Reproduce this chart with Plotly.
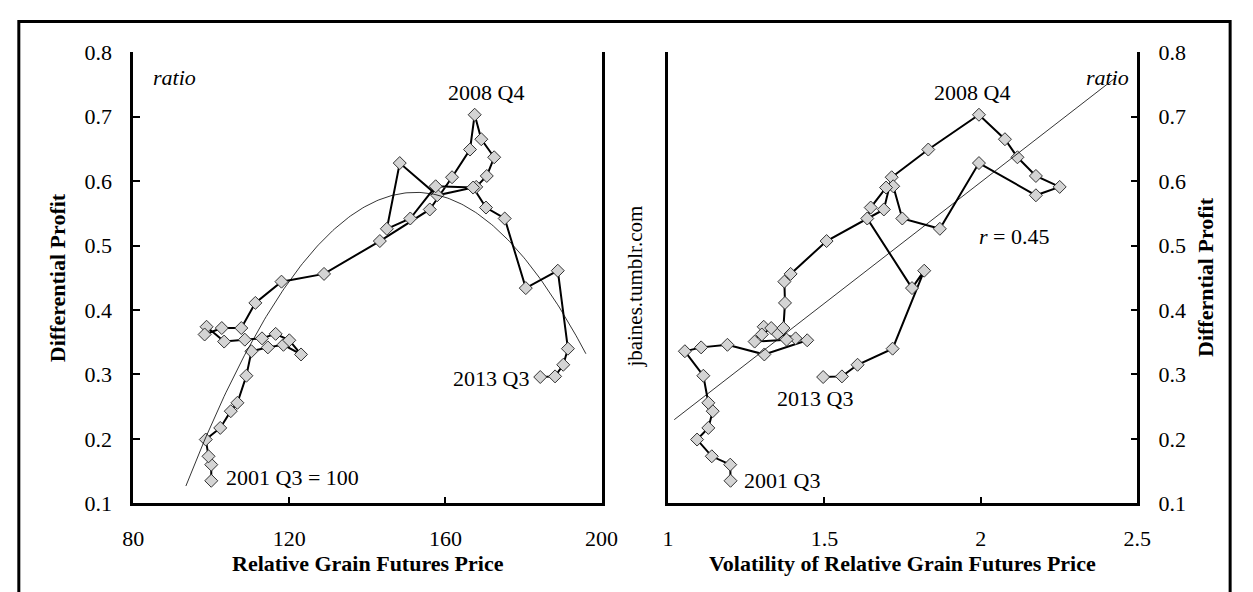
import numpy as np
import plotly.graph_objects as go

W, H = 1253, 592
FONT = "Liberation Serif, Times New Roman, serif"

# quarterly observations, 2001 Q3 ... 2013 Q3
profit = [0.135, 0.160, 0.173, 0.199, 0.217, 0.243, 0.256, 0.298, 0.336, 0.342,
          0.346, 0.331, 0.353, 0.363, 0.356, 0.354, 0.351, 0.374, 0.362, 0.372,
          0.372, 0.411, 0.444, 0.456, 0.507, 0.556, 0.606, 0.649, 0.703, 0.665,
          0.637, 0.608, 0.591, 0.578, 0.628, 0.526, 0.542, 0.592, 0.590, 0.559,
          0.542, 0.434, 0.461, 0.340, 0.315, 0.297, 0.296]
price = [100.0, 100.0, 99.3, 98.6, 102.3, 105.0, 106.7, 109.0, 110.3, 114.5,
         118.5, 123.0, 120.0, 116.5, 113.0, 108.6, 103.3, 98.8, 98.3, 102.7,
         107.7, 111.3, 118.0, 128.9, 143.2, 156.0, 161.7, 166.3, 167.5, 169.2,
         172.5, 170.6, 167.9, 157.9, 148.3, 145.0, 151.0, 157.5, 167.1, 170.4,
         175.2, 180.6, 188.8, 191.4, 190.2, 188.1, 184.3]
volatility = [1.200, 1.199, 1.140, 1.093, 1.129, 1.143, 1.129, 1.113, 1.054, 1.106,
              1.190, 1.308, 1.445, 1.351, 1.408, 1.379, 1.277, 1.306, 1.300, 1.330,
              1.369, 1.374, 1.372, 1.392, 1.507, 1.690, 1.715, 1.832, 1.994, 2.077,
              2.117, 2.176, 2.252, 2.176, 1.994, 1.869, 1.749, 1.720, 1.697, 1.648,
              1.637, 1.780, 1.819, 1.718, 1.606, 1.556, 1.496]

price_ticks = [80, 120, 160, 200]
vol_ticks = [1, 1.5, 2, 2.5]
profit_ticks = [0.1, 0.2, 0.3, 0.4, 0.5, 0.6, 0.7, 0.8]

# extent of the excel-style trend lines (with a little forecast each side)
price_trend_span = (93.5, 196.0)
vol_trend_span = (1.02, 2.43)


def px(x):
    return x / W


def py(y):
    return 1 - y / H


fig = go.Figure()

marker = dict(symbol="diamond", size=10, color="#d4d4d4", line=dict(width=1, color="#333333"))
fig.add_trace(go.Scatter(x=price, y=profit, mode="lines+markers", xaxis="x", yaxis="y",
                         line=dict(color="black", width=2), marker=marker))
fig.add_trace(go.Scatter(x=volatility, y=profit, mode="lines+markers", xaxis="x2", yaxis="y2",
                         line=dict(color="black", width=2), marker=marker))

# trend lines: quadratic on price, linear on volatility
c2 = np.polyfit(price, profit, 2)
xs = np.linspace(*price_trend_span, 200)
fig.add_trace(go.Scatter(x=xs, y=np.polyval(c2, xs), mode="lines", xaxis="x", yaxis="y",
                         line=dict(color="black", width=0.8), hoverinfo="skip"))
c1 = np.polyfit(volatility, profit, 1)
xs2 = np.array(vol_trend_span)
fig.add_trace(go.Scatter(x=xs2, y=np.polyval(c1, xs2), mode="lines", xaxis="x2", yaxis="y2",
                         line=dict(color="black", width=0.8), hoverinfo="skip"))

tickfont = dict(family=FONT, size=22, color="black")
axis = dict(showline=True, linecolor="black", linewidth=2.5, ticks="inside", ticklen=7,
            tickwidth=1.5, tickcolor="black", showgrid=False, zeroline=False,
            tickfont=tickfont, ticklabelstandoff=14)

fig.update_layout(
    width=W, height=H, margin=dict(l=0, r=0, t=0, b=0),
    paper_bgcolor="white", plot_bgcolor="white", showlegend=False,
    font=dict(family=FONT, color="black"),
    xaxis=dict(axis, domain=[px(125), px(604)], anchor="y", range=[80, 200],
               tickvals=price_ticks),
    yaxis=dict(axis, domain=[py(513), py(42)], anchor="x", range=[0.1, 0.8],
               tickvals=profit_ticks, tickformat=".1f", mirror=True),
    xaxis2=dict(axis, domain=[px(672), px(1152)], anchor="y2", range=[1, 2.5],
                tickvals=vol_ticks),
    yaxis2=dict(axis, domain=[py(513), py(42)], anchor="x2", range=[0.1, 0.8],
                tickvals=profit_ticks, tickformat=".1f", side="right", mirror=True),
)


def note(text, x, y, xanchor="center", size=22, bold=False, italic=False, angle=0):
    if bold:
        text = f"<b>{text}</b>"
    if italic:
        text = f"<i>{text}</i>"
    fig.add_annotation(text=text, x=px(x), y=py(y), xref="paper", yref="paper",
                       xanchor=xanchor, yanchor="middle", showarrow=False, textangle=angle,
                       font=dict(family=FONT, size=size, color="black"))


note("Relative Grain Futures Price", 365, 576, bold=True)
note("Volatility of Relative Grain Futures Price", 912, 576, bold=True)
note("Differential Profit", 47, 277, bold=True, angle=-90)
note("Differntial Profit", 1222, 277, bold=True, angle=-90)
note("jbaines.tumblr.com", 638, 287, size=21, angle=-90)

note("ratio", 143, 68, xanchor="left", italic=True)
note("ratio", 1146, 68, xanchor="right", italic=True)
note("2008 Q4", 486, 84)
note("2013 Q3", 532, 383, xanchor="right")
note("2001 Q3 = 100", 218, 486, xanchor="left")
note("2008 Q4", 983, 84)
note("2013 Q3", 781, 404, xanchor="left")
note("2001 Q3", 748, 489, xanchor="left")
note("<i>r</i> = 0.45", 1064, 234, xanchor="right")

# outer frame
fig.add_shape(type="rect", xref="paper", yref="paper", x0=px(8), x1=px(1247),
              y0=py(10), y1=py(620), line=dict(color="black", width=3))

# drop the default body margin so the figure sits at the window origin
fig.write_html("out.html", config={"displayModeBar": False},
               post_script="document.body.style.margin='0';document.body.style.overflow='hidden';")
